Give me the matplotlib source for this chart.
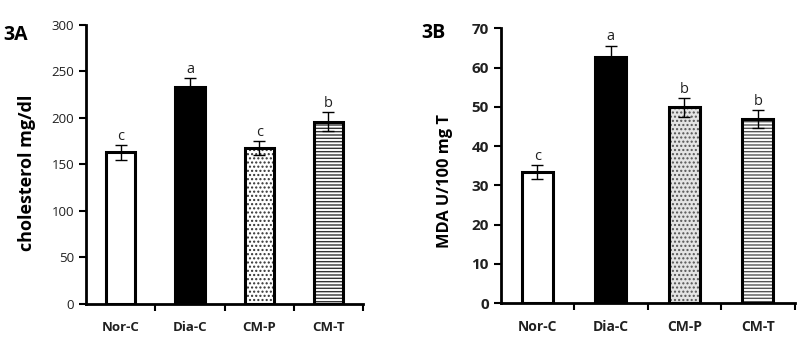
import numpy as np
import matplotlib.pyplot as plt

# ------------------------------------------------------------
# Datos
# ------------------------------------------------------------
grupos = ["Nor-C", "Dia-C", "CM-P", "CM-T"]

col_media = [163, 233, 168, 196]
col_err = [8, 10, 7.5, 10]
col_letras = ["c", "a", "c", "b"]

mda_media = [33.4, 62.6, 49.9, 46.9]
mda_err = [1.7, 3.0, 2.4, 2.3]
mda_letras = ["c", "a", "b", "b"]

plt.rcParams["font.family"] = ["Open Sans", "DejaVu Sans"]

HATCH = [None, None, "....", "-----"]


def panel(ax, medias, errores, letras, ymax, paso, ylabel, etiqueta,
          rellenos, hatch_color, fs_tick, peso_tick, fs_xtick, fs_ylab,
          ylab_pos, letra_off):
    x = np.arange(len(grupos))
    w = 0.42
    # relleno con trama
    for i in range(len(grupos)):
        if HATCH[i]:
            ax.bar(x[i], medias[i], w, color=rellenos[i], hatch=HATCH[i],
                   edgecolor=hatch_color, linewidth=0, zorder=2)
        else:
            ax.bar(x[i], medias[i], w, color=rellenos[i], linewidth=0, zorder=2)
    # contorno grueso
    ax.bar(x, medias, w, fill=False, edgecolor="black", linewidth=2.2, zorder=3)
    ax.errorbar(x, medias, yerr=errores, fmt="none", ecolor="black",
                elinewidth=1, capsize=4, capthick=1, zorder=4)
    for i in range(len(grupos)):
        ax.text(x[i], medias[i] + errores[i] + letra_off, letras[i],
                ha="center", va="bottom", fontsize=10.5, color="#202020")

    ax.set_xlim(-0.5, 3.5)
    ax.set_ylim(0, ymax)
    ax.set_yticks(np.arange(0, ymax + 0.1, paso))
    ax.set_xticks(x)
    ax.set_xticklabels(grupos, fontsize=fs_xtick, fontweight="bold", color="#202020")
    ax.set_xticks([0.5, 1.5, 2.5, 3.5], minor=True)
    ax.tick_params(axis="x", which="major", length=0, pad=12)
    ax.tick_params(axis="x", which="minor", length=5, width=1.5, direction="out")
    ax.tick_params(axis="y", length=5, width=1.5, direction="out",
                   labelsize=fs_tick, labelcolor="#202020")
    for lbl in ax.get_yticklabels():
        lbl.set_fontweight(peso_tick)
    for s in ["top", "right"]:
        ax.spines[s].set_visible(False)
    for s in ["left", "bottom"]:
        ax.spines[s].set_linewidth(2)
    ax.set_ylabel(ylabel, fontsize=fs_ylab, fontweight="bold")
    ax.yaxis.set_label_coords(*ylab_pos)
    ax.text(etiqueta[1], etiqueta[2], etiqueta[0], transform=ax.transAxes,
            fontsize=14, fontweight="bold", ha="left", va="top")


fig = plt.figure(figsize=(8.05, 3.4), dpi=100)
ax1 = fig.add_axes([0.107, 0.106, 0.344, 0.821])
ax2 = fig.add_axes([0.622, 0.108, 0.365, 0.809])

panel(ax1, col_media, col_err, col_letras, 300, 50, "cholesterol mg/dl",
      ("3A", -0.30, 1.0), ["white", "black", "white", "white"], "#333333",
      9.5, "normal", 9.5, 13, (-0.18, 0.47), 1)
panel(ax2, mda_media, mda_err, mda_letras, 70, 10, "MDA U/100 mg T",
      ("3B", -0.27, 1.018), ["white", "black", "#e4e4e4", "white"], "#555555",
      11, "bold", 10, 11.8, (-0.163, 0.445), 0.3)

fig.savefig("out.png", dpi=100)
